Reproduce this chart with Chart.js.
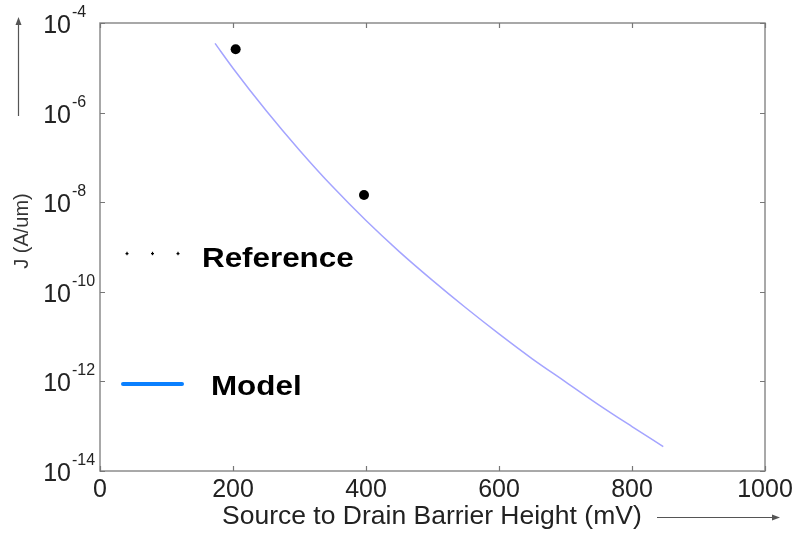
<!DOCTYPE html>
<html><head><meta charset="utf-8">
<script src="https://cdn.jsdelivr.net/npm/chart.js@4.4.1/dist/chart.umd.min.js"></script>
<style>html,body{margin:0;padding:0;background:#fff}canvas{display:block}</style>
</head><body>
<canvas id="c" width="796" height="534"></canvas>
<script>
// ---- data ----
const modelBarrier = [173, 200, 250, 300, 350, 400, 450, 500, 550, 600, 650, 700, 750, 800, 847];
const modelCurrent = [3.5e-5, 9.8e-6, 1.1e-6, 1.45e-7, 2.2e-8, 3.9e-9, 7.9e-10, 1.8e-10, 4.4e-11, 1.15e-11, 3.2e-12, 9.8e-13, 3.0e-13, 9.8e-14, 3.5e-14];
const refBarrier = [204, 397];
const refCurrent = [2.6e-5, 1.45e-8];
const xTickValues = [0, 200, 400, 600, 800, 1000];
const yTickExponents = [-4, -6, -8, -10, -12, -14];
const xTitle = 'Source to Drain Barrier Height (mV)';
const yTitle = 'J (A/um)';
const legendLabels = ['Reference', 'Model'];

const FONT = '"Liberation Sans", Arial, sans-serif';

const decorPlugin = {
  id: 'decor',
  afterDraw(chart) {
    const ctx = chart.ctx, ca = chart.chartArea;
    const xs = chart.scales.x, ys = chart.scales.y;
    ctx.save();
    // frame
    ctx.strokeStyle = '#8c8c8c';
    ctx.lineWidth = 1.5;
    ctx.strokeRect(ca.left, ca.top, ca.right - ca.left, ca.bottom - ca.top);
    // inward tick marks
    ctx.lineWidth = 1.2;
    ctx.strokeStyle = '#777';
    ctx.beginPath();
    xTickValues.forEach(v => {
      const px = Math.round(xs.getPixelForValue(v)) + 0.5;
      ctx.moveTo(px, ca.bottom); ctx.lineTo(px, ca.bottom - 5);
      ctx.moveTo(px, ca.top); ctx.lineTo(px, ca.top + 5);
    });
    yTickExponents.forEach(e => {
      const py = Math.round(ys.getPixelForValue(Math.pow(10, e))) + 0.5;
      ctx.moveTo(ca.left, py); ctx.lineTo(ca.left + 5, py);
      ctx.moveTo(ca.right, py); ctx.lineTo(ca.right - 5, py);
    });
    ctx.stroke();

    // x tick labels
    ctx.fillStyle = '#222';
    ctx.font = '25px ' + FONT;
    ctx.textAlign = 'center';
    ctx.textBaseline = 'alphabetic';
    xTickValues.forEach(v => {
      ctx.fillText(String(v), xs.getPixelForValue(v), 497);
    });
    // y tick labels 10^e
    yTickExponents.forEach(e => {
      const py = ys.getPixelForValue(Math.pow(10, e));
      ctx.font = '25px ' + FONT;
      ctx.textAlign = 'right';
      ctx.fillText('10', 71, py + 10);
      ctx.font = '16px ' + FONT;
      ctx.textAlign = 'left';
      ctx.fillText(String(e), 72, py - 6);
    });

    // x title
    ctx.font = '25px ' + FONT;
    ctx.textAlign = 'left';
    ctx.fillStyle = '#222';
    ctx.save();
    ctx.translate(222, 524);
    ctx.scale(1.06, 1);
    ctx.fillText(xTitle, 0, 0);
    ctx.restore();
    // y title
    ctx.save();
    ctx.translate(28, 231);
    ctx.rotate(-Math.PI / 2);
    ctx.font = '20px ' + FONT;
    ctx.textAlign = 'center';
    ctx.fillStyle = '#333';
    ctx.fillText(yTitle, 0, 0);
    ctx.restore();

    // arrows
    ctx.strokeStyle = '#555';
    ctx.fillStyle = '#555';
    ctx.lineWidth = 1.2;
    ctx.beginPath();
    ctx.moveTo(18.5, 116); ctx.lineTo(18.5, 22);
    ctx.moveTo(657, 517.5); ctx.lineTo(774, 517.5);
    ctx.stroke();
    ctx.beginPath();
    ctx.moveTo(18.5, 17); ctx.lineTo(15.5, 25); ctx.lineTo(21.5, 25); ctx.closePath(); ctx.fill();
    ctx.beginPath();
    ctx.moveTo(780, 517.5); ctx.lineTo(772, 514.5); ctx.lineTo(772, 520.5); ctx.closePath(); ctx.fill();

    // legend
    ctx.fillStyle = '#000';
    [127, 152.5, 178].forEach(x => {
      ctx.fillRect(x - 1.5, 253, 3, 1.2);
      ctx.fillRect(x - 0.6, 251.8, 1.2, 3.4);
    });
    ctx.font = 'bold 28px ' + FONT;
    ctx.textAlign = 'left';
    ctx.save();
    ctx.translate(202, 267);
    ctx.scale(1.12, 1);
    ctx.fillText(legendLabels[0], 0, 0);
    ctx.restore();
    ctx.strokeStyle = '#0a80ff';
    ctx.lineWidth = 4;
    ctx.lineCap = 'round';
    ctx.beginPath(); ctx.moveTo(123, 384); ctx.lineTo(182, 384); ctx.stroke();
    ctx.save();
    ctx.translate(211, 395);
    ctx.scale(1.12, 1);
    ctx.fillText(legendLabels[1], 0, 0);
    ctx.restore();
    ctx.restore();
  }
};

new Chart(document.getElementById('c'), {
  type: 'scatter',
  data: {
    datasets: [
      {
        label: legendLabels[1],
        data: modelBarrier.map((x, i) => ({ x: x, y: modelCurrent[i] })),
        showLine: true,
        borderColor: '#a4a4ff',
        borderWidth: 1.5,
        pointRadius: 0,
        cubicInterpolationMode: 'monotone',
        order: 2
      },
      {
        label: legendLabels[0],
        data: refBarrier.map((x, i) => ({ x: x, y: refCurrent[i] })),
        showLine: false,
        pointRadius: 5,
        pointBackgroundColor: '#000',
        pointBorderColor: '#000',
        pointBorderWidth: 0,
        order: 1
      }
    ]
  },
  options: {
    responsive: false,
    devicePixelRatio: 1,
    animation: false,
    events: [],
    layout: { padding: { left: 100, right: 31, top: 23, bottom: 63 } },
    plugins: { legend: { display: false }, tooltip: { enabled: false } },
    scales: {
      x: {
        type: 'linear', min: 0, max: 1000,
        grid: { display: false, drawTicks: false },
        border: { display: false },
        ticks: { display: false },
        afterFit(s) { s.height = 0; }
      },
      y: {
        type: 'logarithmic', min: 1e-14, max: 1e-4,
        grid: { display: false, drawTicks: false },
        border: { display: false },
        ticks: { display: false },
        afterFit(s) { s.width = 0; }
      }
    }
  },
  plugins: [decorPlugin]
});
</script>
</body></html>
